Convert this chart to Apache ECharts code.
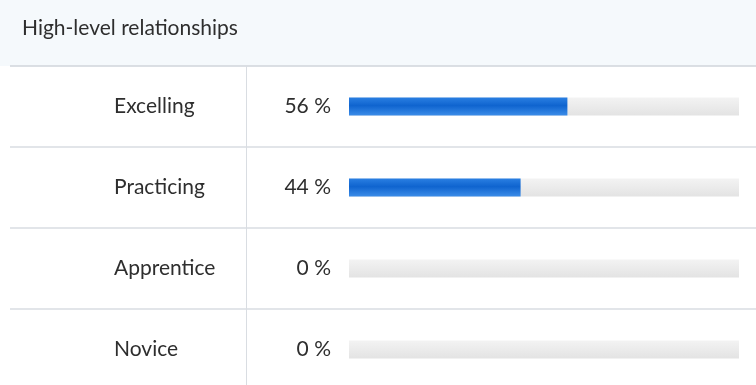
<!DOCTYPE html>
<html><head><meta charset="utf-8">
<script src="https://cdn.jsdelivr.net/npm/echarts@6/dist/echarts.min.js"></script>
<style>html,body{margin:0;padding:0;background:#fff;overflow:hidden}#c{width:756px;height:392px}</style>
</head><body><div id="c"></div>
<script>
const titleText = 'High-level relationships';
const categories = ['Excelling', 'Practicing', 'Apprentice', 'Novice'];
const percentages = [56, 44, 0, 0];
const trackMax = [100, 100, 100, 100];

const chart = echarts.init(document.getElementById('c'));
const FONT = 'Lato, "Open Sans", sans-serif';
const TOP = 66, ROWH = 81;
const H = ROWH * categories.length;

chart.setOption({
  animation: false,
  backgroundColor: '#ffffff',
  title: {
    text: titleText, left: 17, top: 13,
    textStyle: { fontFamily: FONT, fontSize: 21, fontWeight: 'normal', color: '#2e2e2e' }
  },
  graphic: [
    { type: 'rect', z: -10, shape: { x: 0, y: 0, width: 756, height: TOP }, style: { fill: '#f5f9fc' } },
    { type: 'line', z: 10, shape: { x1: 10, y1: TOP, x2: 756, y2: TOP }, style: { stroke: '#d9dde2', lineWidth: 1.5 } },
    { type: 'line', z: 10, shape: { x1: 246.5, y1: TOP, x2: 246.5, y2: 392 }, style: { stroke: '#d9dde2', lineWidth: 1 } }
  ],
  grid: [
    { left: 349, right: 17, top: TOP, height: H },
    { left: 10, right: 0, top: TOP, height: H }
  ],
  xAxis: [
    { gridIndex: 0, type: 'value', min: 0, max: 100, show: false },
    { gridIndex: 1, type: 'value', min: 0, max: 100, show: false }
  ],
  yAxis: [
    {
      gridIndex: 0, type: 'category', data: categories, inverse: true,
      axisLine: { show: false }, axisTick: { show: false }, splitLine: { show: false },
      axisLabel: { margin: 235, fontFamily: FONT, fontSize: 21, color: '#2e2e2e', align: 'left' }
    },
    {
      gridIndex: 1, type: 'category', data: categories, inverse: true,
      axisLine: { show: false }, axisTick: { show: false }, axisLabel: { show: false },
      splitLine: { show: true, lineStyle: { color: '#d9dde2', width: 1.5 } }
    }
  ],
  series: [
    {
      type: 'bar', xAxisIndex: 0, yAxisIndex: 0, data: trackMax, barWidth: 18, silent: true,
      itemStyle: { color: new echarts.graphic.LinearGradient(0, 0, 0, 1, [
        { offset: 0, color: '#f3f3f3' }, { offset: 1, color: '#e3e3e3' }]) },
      label: {
        show: true, position: 'left', distance: 18,
        formatter: p => percentages[p.dataIndex] + ' %',
        fontFamily: FONT, fontSize: 21, color: '#2e2e2e'
      }
    },
    {
      type: 'bar', xAxisIndex: 0, yAxisIndex: 0, data: percentages, barWidth: 18, barGap: '-100%',
      itemStyle: { color: new echarts.graphic.LinearGradient(0, 0, 0, 1, [
        { offset: 0, color: '#2a7fe2' }, { offset: 0.45, color: '#0f64cf' }, { offset: 1, color: '#3b8ce8' }]) }
    }
  ]
});
</script></body></html>
